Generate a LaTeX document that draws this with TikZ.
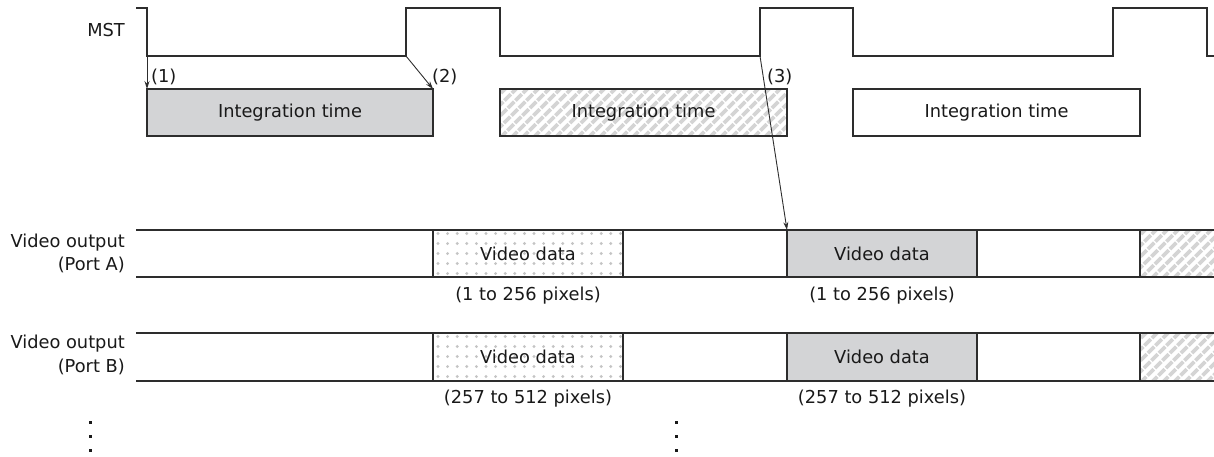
\documentclass[tikz,border=0pt]{standalone}
\usepackage{fontspec}
\setmainfont{DejaVu Sans}
\usetikzlibrary{arrows.meta}
\definecolor{ln}{RGB}{45,45,45}
\definecolor{txt}{RGB}{25,25,25}
\definecolor{boxgray}{RGB}{211,212,214}
\definecolor{dotgray}{RGB}{196,196,196}
\definecolor{hatchgray}{RGB}{212,212,212}
\tikzset{
  wire/.style={draw=ln, line width=1.1pt},
  lbl/.style={font=\fontsize{17.8}{20}\selectfont, text=txt, inner sep=0pt},
  seg/.style={draw=ln, line width=1.1pt, inner sep=0pt, outer sep=0pt, anchor=north west,
    font=\fontsize{17.8}{20}\selectfont, text=txt},
  greyfill/.style={fill=boxgray},
  hatchfill/.style={path picture={
    \foreach \k in {-6,...,28}
      \draw[hatchgray, line width=3.6pt, dash pattern=on 9pt off 1.6pt]
        ([xshift=\k*11pt, yshift=-2pt]path picture bounding box.south west) -- ++(62pt,62pt);
  }},
  dotfill/.style={path picture={
    \foreach \i in {0,...,20}
      \foreach \j in {0,...,4}
        \fill[dotgray] ([xshift=\i*9.6pt+5pt, yshift=-\j*10pt-3.5pt]path picture bounding box.north west) circle (1.6pt);
  }},
  arr/.style={draw=ln, line width=0.9pt, -{Stealth[length=8pt,width=5pt]}},
}
\begin{document}
\begin{tikzpicture}[x=1pt,y=-1pt]
\useasboundingbox (0,0) rectangle (1214,456);

% MST waveform
\coordinate (f1) at (147,56);
\coordinate (r1) at (406,56);
\coordinate (f2) at (500,56);
\coordinate (r2) at (760,56);
\coordinate (f3) at (853,56);
\coordinate (r3) at (1113,56);
\coordinate (f4) at (1207,56);
\draw[wire] (136,8) -- (147,8) -- (f1) -- (r1) -- (406,8) -- (500,8) -- (f2) -- (r2) -- (760,8) -- (853,8)
  -- (f3) -- (r3) -- (1113,8) -- (1207,8) -- (f4) -- (1214,56);
\node[lbl, anchor=east] (mst) at (125,30) {MST};

% Integration time boxes
\node[seg, greyfill, minimum width=286pt, minimum height=47pt] (i1) at (147,89) {Integration time};
\node[seg, hatchfill, minimum width=287pt, minimum height=47pt] (i2) at (500,89) {Integration time};
\node[seg, minimum width=287pt, minimum height=47pt] (i3) at (853,89) {Integration time};

% Port A row
\draw[wire] (136,230) -- (1214,230);
\draw[wire] (136,277) -- (1214,277);
\node[seg, dotfill, minimum width=190pt, minimum height=47pt] (a1) at (433,230) {Video data};
\node[seg, greyfill, minimum width=190pt, minimum height=47pt] (a2) at (787,230) {Video data};
\node[seg, hatchfill, minimum width=80pt, minimum height=47pt] (a3) at (1140,230) {};
\node[lbl, anchor=east] (va1) at (125,243) {Video output};
\node[lbl, anchor=east] (va2) at (125,265) {(Port A)};
\node[lbl] (pa1) at (528,296) {(1 to 256 pixels)};
\node[lbl] (pa2) at (882,296) {(1 to 256 pixels)};

% Port B row
\draw[wire] (136,333) -- (1214,333);
\draw[wire] (136,381) -- (1214,381);
\node[seg, dotfill, minimum width=190pt, minimum height=48pt] (b1) at (433,333) {Video data};
\node[seg, greyfill, minimum width=190pt, minimum height=48pt] (b2) at (787,333) {Video data};
\node[seg, hatchfill, minimum width=80pt, minimum height=48pt] (b3) at (1140,333) {};
\node[lbl, anchor=east] (vb1) at (125,344) {Video output};
\node[lbl, anchor=east] (vb2) at (125,367) {(Port B)};
\node[lbl] (pb1) at (528,399) {(257 to 512 pixels)};
\node[lbl] (pb2) at (882,399) {(257 to 512 pixels)};

% arrows
\draw[arr] (f1) -- (i1.north west);
\draw[arr] (r1) -- (i1.north east);
\draw[arr] (r2) -- (a2.north west);
\node[lbl, anchor=west] (l1) at (151,77) {(1)};
\node[lbl, anchor=west] (l2) at (432,77) {(2)};
\node[lbl, anchor=west] (l3) at (767,77) {(3)};

% vertical ellipsis
\foreach \yy in {422,436,450} {
  \fill[txt] (88.5,\yy-1.5) rectangle ++(3,3);
  \fill[txt] (674.5,\yy-1.5) rectangle ++(3,3);
}
\end{tikzpicture}
\end{document}
